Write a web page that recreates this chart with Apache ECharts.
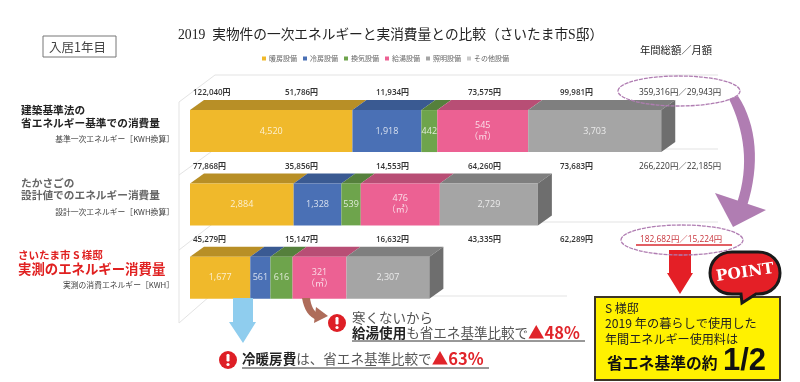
<!DOCTYPE html>
<html><head><meta charset="utf-8">
<style>html,body{margin:0;padding:0;background:#fff}#c{width:800px;height:382px}</style>
<script src="https://cdn.jsdelivr.net/npm/echarts@6/dist/echarts.min.js"></script>
</head><body><div id="c"></div>
<script>
// ---- data
const rows = ['建築基準法','たかさご設計値','S様邸実測'];
const heating   = [4520, 2884, 1677];
const cooling   = [1918, 1328, 561];
const ventilate = [442, 539, 616];
const hotWater  = [2530, 2200, 1500];   // energy length of the bar (estimated)
const hotWaterM3= [545, 476, 321];      // the label printed in the bar
const lighting  = [3703, 2729, 2307];
const seriesNames = ['暖房設備','冷房設備','換気設備','給湯設備','照明設備','その他設備'];
const yen1 = ['122,040円','51,786円','11,934円','73,575円','99,981円','359,316円／29,943円'];
const yen2 = ['77,868円','35,856円','14,553円','64,260円','73,683円','266,220円／22,185円'];
const yen3 = ['45,279円','15,147円','16,632円','43,335円','62,289円'];
const yen3Total = '182,682円／15,224円';

const FONT = '"Noto Sans CJK JP",sans-serif';
const SERIF = '"Liberation Serif","Noto Sans CJK JP",serif';
const colors = ['#F0B92B','#4A70B5','#6EA44C','#EC6193','#A5A5A5'];
const topCols = ['#B88F26','#3A5A92','#55803C','#B84E75','#7F7F7F'];
const BAR_H = 42, DX = 14, DY = 10;

const parts = [heating, cooling, ventilate, hotWater, lighting];
const fmt = v => v.toLocaleString('en-US');
function stackedData(i){
  return rows.map((_, r) => {
    let s = 0; for (let k = 0; k < i; k++) s += parts[k][r];
    return [s, s + parts[i][r], r];
  });
}
function makeSeries(i){
  return {
    name: seriesNames[i], type:'custom', coordinateSystem:'cartesian2d',
    itemStyle:{color:colors[i]}, encode:{x:[0,1],y:2},
    data: stackedData(i), z: 5,
    renderItem(params, api){
      const r = api.value(2);
      const a = api.coord([api.value(0), r]), b = api.coord([api.value(1), r]);
      const y0 = a[1] - BAR_H/2, y1 = a[1] + BAR_H/2;
      const kids = [
        {type:'polygon',shape:{points:[[a[0],y0],[a[0]+DX,y0-DY],[b[0]+DX,y0-DY],[b[0],y0]]},style:{fill:topCols[i]}},
        {type:'rect',shape:{x:a[0],y:y0,width:b[0]-a[0],height:BAR_H},style:{fill:colors[i]}}
      ];
      if (i === 4) kids.push({type:'polygon',shape:{points:[[b[0],y0],[b[0]+DX,y0-DY],[b[0]+DX,y1-DY],[b[0],y1]]},style:{fill:'#6E6E6E'}});
      const txt = i === 3 ? hotWaterM3[r] + '\n（㎥）' : fmt(parts[i][r]);
      kids.push({type:'text',style:{x:(a[0]+b[0])/2,y:a[1],text:txt,fill:'rgba(255,255,255,0.78)',align:'center',verticalAlign:'middle',
        font:'9px "Open Sans","Noto Sans CJK JP",sans-serif',lineHeight:11}});
      return {type:'group',children:kids};
    }
  };
}
// sixth legend entry (その他設備 has no visible bar of its own)
const otherSeries = {name:seriesNames[5],type:'custom',coordinateSystem:'cartesian2d',itemStyle:{color:'#C9C9C9'},data:[],renderItem(){return null;}};

function T(x,y,text,size,fill,extra){
  return {type:'text',z:20,x,y,style:Object.assign({text,fill:fill||'#333',font:(extra&&extra.weight||'normal')+' '+size+'px '+(extra&&extra.family||FONT),
    align:extra&&extra.align||'left',verticalAlign:'middle',rich:extra&&extra.rich},{})};
}
function L(x1,y1,x2,y2,c,w,z){return {type:'line',z:z||1,shape:{x1,y1,x2,y2},style:{stroke:c||'#e3e3e3',lineWidth:w||1}};}
function P(points,fill,z){return {type:'polygon',z:z||15,shape:{points},style:{fill}};}
function outline(name,pathData){ echarts.graphic.registerShape(name, echarts.graphic.extendPath(pathData)); }
outline('purpleBody','M729 99 C 744 130 750 165 737 203 L 747 206 C 760 165 757 125 738 96 Z');
outline('brownBody','M302 298 C 304 310 309 317 317 320 L 318 314 C 314 311 311 306 310 298 Z');
outline('pointBubble','M732 252 H758 C 772 252 780 262 780 273 C 780 284 772 294 758 294 L 756 294 L 742 303 L 741 294 H732 C 718 294 710 284 710 273 C 710 262 718 252 732 252 Z');

const rowY = [93,166.5,240];
const colX = [193,285,376,468,560];
const g = [];
// wall and floor lines
g.push(L(215,75,718,75),L(215,149,718,149),L(215,222,718,222),L(210,296,567,296));
g.push(L(179,102,215,75),L(179,175,215,149),L(179,250,215,222),L(179,323,210,296),L(179,102,179,323));
// header
g.push({type:'rect',z:20,shape:{x:43,y:36,width:73,height:21},style:{fill:'#fff',stroke:'#777',lineWidth:1}});
g.push(T(49,47,'入居1年目',12.5,'#444'));
g[g.length-1].z=21;
g.push(T(640,50,'年間総額／月額',10.3,'#222'));
// row captions
g.push(T(21,110,'建築基準法の',10.7,'#222',{weight:'bold'}));
g.push(T(21,123,'省エネルギー基準での消費量',10.7,'#222',{weight:'bold'}));
g.push(T(174,139,'基準一次エネルギー［KWH換算］',7.8,'#444',{align:'right'}));
g.push(T(21,183,'たかさごの',10.7,'#666',{weight:'bold'}));
g.push(T(21,195,'設計値でのエネルギー消費量',10.7,'#666',{weight:'bold'}));
g.push(T(174,212,'設計一次エネルギー［KWH換算］',7.8,'#444',{align:'right'}));
g.push(T(18,255,'さいたま市 S 様邸',10.5,'#E02020',{weight:'bold'}));
g.push(T(18,269,'実測のエネルギー消費量',13.4,'#E02020',{weight:'bold'}));
g.push(T(174,285,'実測の消費エネルギー［KWH］',7.8,'#444',{align:'right'}));
// yen rows
const costFont = '"Open Sans","Noto Sans CJK JP",sans-serif';
[yen1,yen2,yen3].forEach((arr,r)=>arr.forEach((s,c)=>{
  if (c<5) g.push(T(colX[c],rowY[r],s,8,'#333',{family:costFont,weight:'600'}));
  else g.push(T(639,rowY[r],s,8.4,'#333',{family:costFont}));
}));
g.push(T(640,240,yen3Total,8.4,'#C8323A',{family:costFont}));
g.push(L(636,245,732,245,'#D82A30',1.5,20));
// purple ring + arrow
const PUR='#B07DB2';
g.push({type:'ellipse',z:18,shape:{cx:679,cy:91,rx:61,ry:15},style:{fill:'none',stroke:PUR,lineWidth:1.3,lineDash:[4,1]}});
g.push({type:'ellipse',z:18,shape:{cx:682,cy:240,rx:61,ry:15},style:{fill:'none',stroke:PUR,lineWidth:1.3,lineDash:[4,1]}});
g.push({type:'purpleBody',z:14,shape:{},style:{fill:PUR}});
g.push(P([[715,193],[766,210],[733,227]],PUR));
// red arrow
g.push(P([[669,250],[691,250],[691,273],[693,273],[680,294],[667,273],[669,273]],'#E41F26'));
// yellow panel
g.push({type:'rect',z:16,shape:{x:595,y:297,width:185,height:83},style:{fill:'#FFF100',stroke:'#3C3526',lineWidth:2}});
g.push(T(605,308,'S 様邸',12,'#222'));
g.push(T(605,323,'2019 年の暮らしで使用した',12.2,'#222'));
g.push(T(605,339,'年間エネルギー使用料は',12.1,'#222'));
g.push(T(607,363,'省エネ基準の約',15.8,'#111',{weight:'bold'}));
g.push(T(723,361,'1/2',31,'#111',{weight:'bold',family:'"Liberation Sans",sans-serif'}));
// POINT bubble
g.push({type:'pointBubble',z:17,shape:{},style:{fill:'#E41F26',stroke:'#1a1a1a',lineWidth:3}});
g.push({type:'text',z:21,x:745,y:273,rotation:0.14,style:{text:'POINT',fill:'#fff',font:'bold 15.5px "DejaVu Serif",serif',align:'center',verticalAlign:'middle'}});
// blue arrow
g.push(P([[233,298],[253,298],[253,322],[256,322],[243,343],[229,322],[233,322]],'#8FCDEE'));
// brown arrow
g.push({type:'brownBody',z:15,shape:{},style:{fill:'#AE6C5A'}});
g.push(P([[316,307],[328,316],[314,323]],'#AE6C5A'));
// notes
function alert(cx,cy){
  g.push({type:'circle',z:19,shape:{cx,cy,r:9},style:{fill:'#DE1F26'}});
  g.push({type:'rect',z:20,shape:{x:cx-1.5,y:cy-6,width:3,height:7.5,r:1.2},style:{fill:'#fff'}});
  g.push({type:'circle',z:20,shape:{cx,cy:cy+4.5,r:1.6},style:{fill:'#fff'}});
}
alert(337,323); alert(228,360);
const noteRich = {
  b:{font:'bold 13.55px '+FONT,fill:'#222'},
  n:{font:'13.55px '+FONT,fill:'#555'},
  r:{font:'bold 16.5px '+FONT,fill:'#E0242A'}
};
g.push(T(352,318,'寒くないから',13.5,'#555'));
g.push(T(352,333,'{b|給湯使用}{n|も省エネ基準比較で}{r|▲48%}',13.5,'#555',{rich:noteRich}));
g.push(L(352,341,585,341,'#333',1,20));
g.push(T(242,359,'{b|冷暖房費}{n|は、省エネ基準比較で}{r|▲63%}',13.5,'#555',{rich:noteRich}));
g.push(L(242,368,489,368,'#333',1,20));

const chart = echarts.init(document.getElementById('c'),null,{renderer:'canvas'});
chart.setOption({
  animation:false, backgroundColor:'#fff',
  title:{text:'2019  実物件の一次エネルギーと実消費量との比較（さいたま市S邸）',left:178,top:29,padding:0,
    textStyle:{fontFamily:SERIF,fontSize:13.7,fontWeight:'normal',color:'#222'}},
  legend:{left:262,top:55,padding:0,itemWidth:4,itemHeight:4,itemGap:6,icon:'rect',
    data:seriesNames,textStyle:{fontFamily:FONT,fontSize:7,color:'#666',padding:[0,0,0,-2]}},
  grid:{left:190,top:94.4,width:575,height:220},
  xAxis:{type:'value',min:0,max:16000,show:false},
  yAxis:{type:'category',data:rows,inverse:true,show:false},
  series:[0,1,2,3,4].map(makeSeries).concat([otherSeries]),
  graphic:{elements:g}
});
</script></body></html>
